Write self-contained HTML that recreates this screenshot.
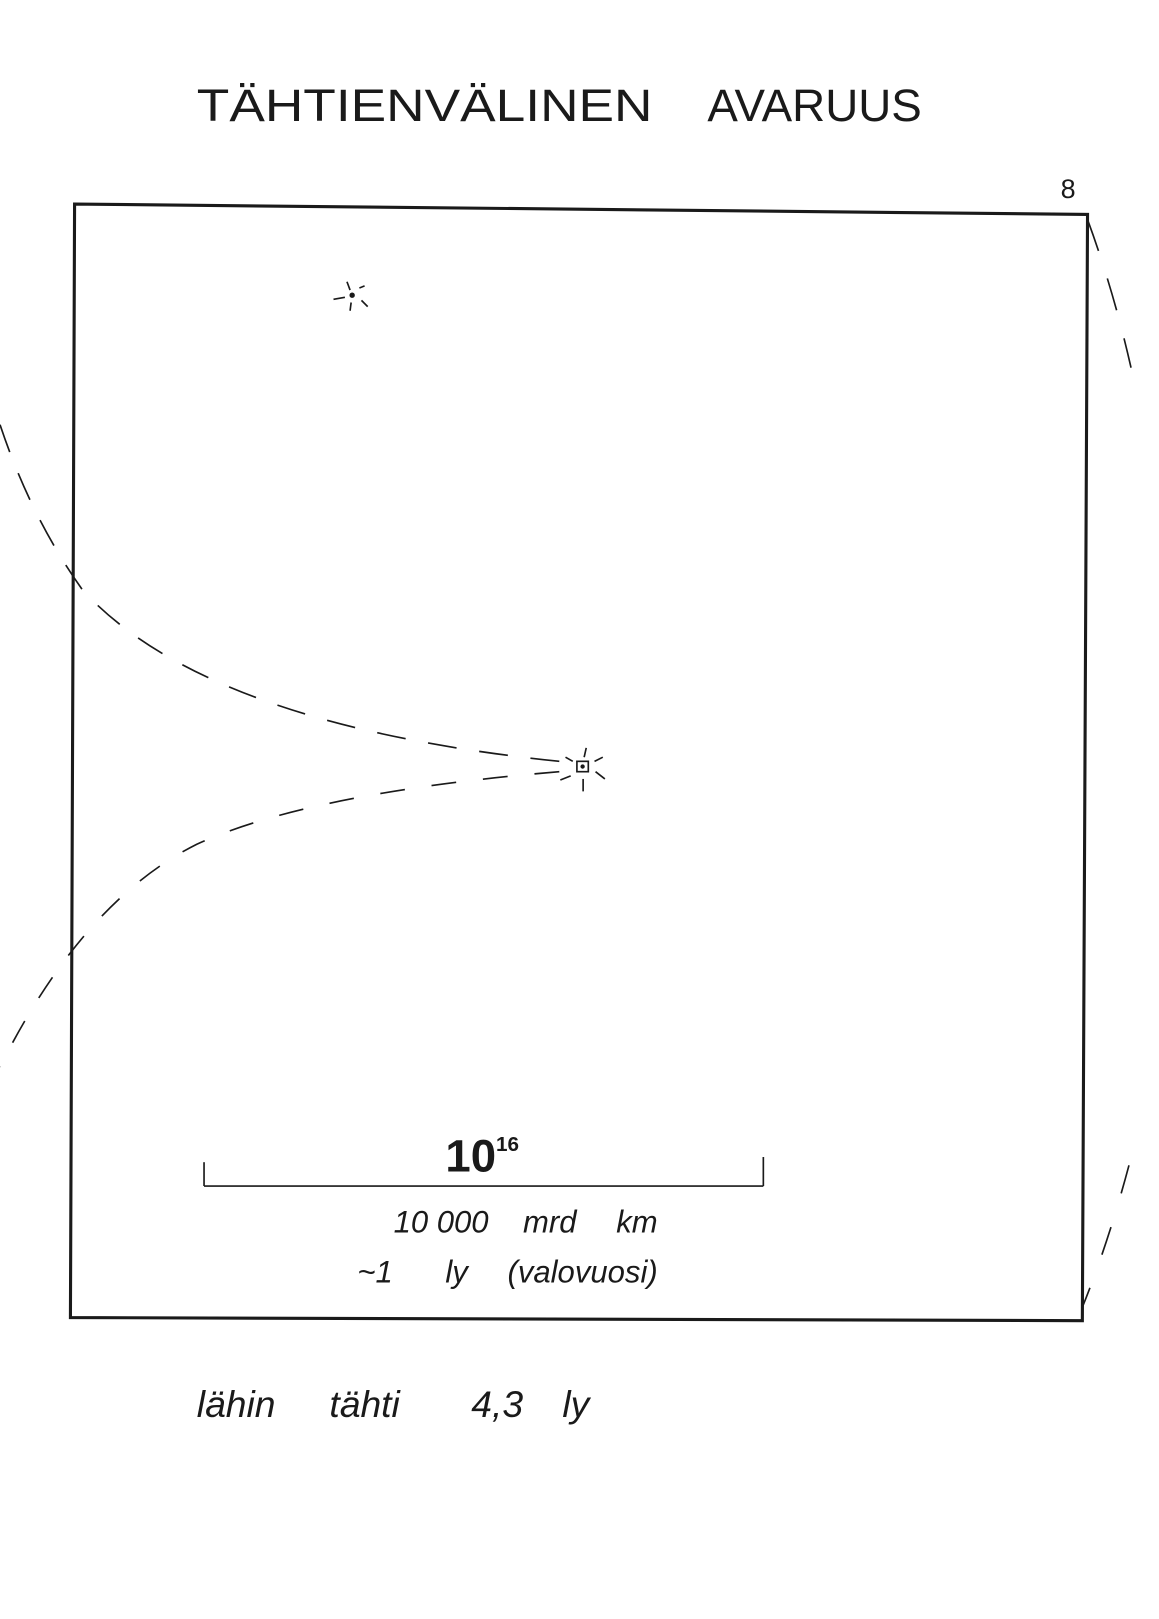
<!DOCTYPE html>
<html><head><meta charset="utf-8"><style>
html,body{margin:0;padding:0;background:#fff;}
svg{display:block;}
text{font-family:"Liberation Sans",sans-serif;fill:#1a1a1a;}
</style></head><body>
<svg width="1159" height="1619" viewBox="0 0 1119 1563" preserveAspectRatio="none">
<text x="190" y="117" font-size="44" textLength="440" lengthAdjust="spacingAndGlyphs">TÄHTIENVÄLINEN</text>
<text x="683" y="117" font-size="44" textLength="207" lengthAdjust="spacingAndGlyphs">AVARUUS</text>
<text x="1024" y="191" font-size="26">8</text>
<polygon points="72,197 1050,207 1045,1275 68,1272" fill="none" stroke="#1a1a1a" stroke-width="3"/>
<g stroke="#1a1a1a" stroke-width="1.6" fill="none">
<line x1="322" y1="289" x2="333" y2="287"/><line x1="335" y1="272" x2="338" y2="280"/><line x1="347" y1="278" x2="352" y2="276"/><line x1="349" y1="290" x2="355" y2="296"/><line x1="339" y1="292" x2="338" y2="300"/><circle cx="340" cy="285" r="1.8" fill="#1a1a1a"/>
</g>
<g stroke="#1a1a1a" stroke-width="1.6" fill="none">
<rect x="557" y="735" width="11" height="10"/><circle cx="562.5" cy="740" r="1.3" fill="#1a1a1a"/>
<line x1="566" y1="722" x2="564" y2="731"/><line x1="546" y1="731" x2="553" y2="735"/><line x1="574" y1="735" x2="582" y2="731"/><line x1="575" y1="745" x2="584" y2="752"/><line x1="563" y1="752" x2="563" y2="764"/><line x1="541" y1="753" x2="551" y2="749"/>
</g>
<path d="M0,410 Q30,500 80,570 Q200,700 540,735" stroke="#1a1a1a" stroke-width="1.6" fill="none" stroke-dasharray="28,22"/>
<path d="M540,745 Q300,765 190,815 Q80,870 0,1030" stroke="#1a1a1a" stroke-width="1.6" fill="none" stroke-dasharray="24,26"/>
<path d="M1050,212 Q1075,280 1092,355" stroke="#1a1a1a" stroke-width="1.6" fill="none" stroke-dasharray="32,28"/>
<path d="M1090,1125 Q1070,1200 1045,1262" stroke="#1a1a1a" stroke-width="1.6" fill="none" stroke-dasharray="28,34"/>
<g stroke="#1a1a1a" stroke-width="1.6">
<line x1="197" y1="1145" x2="737" y2="1145"/><line x1="197" y1="1122" x2="197" y2="1145"/><line x1="737" y1="1117" x2="737" y2="1145"/>
</g>
<text x="430" y="1131" font-size="44" font-weight="bold">10<tspan font-size="20" dy="-20">16</tspan></text>
<text y="1190" font-size="30" font-style="italic"><tspan x="380">10 000</tspan><tspan x="505">mrd</tspan><tspan x="595">km</tspan></text>
<text y="1238" font-size="30" font-style="italic"><tspan x="345">~1</tspan><tspan x="430">ly</tspan><tspan x="490">(valovuosi)</tspan></text>
<text y="1368" font-size="36" font-style="italic"><tspan x="190">lähin</tspan><tspan x="318">tähti</tspan><tspan x="455">4,3</tspan><tspan x="543">ly</tspan></text>
</svg>
</body></html>
